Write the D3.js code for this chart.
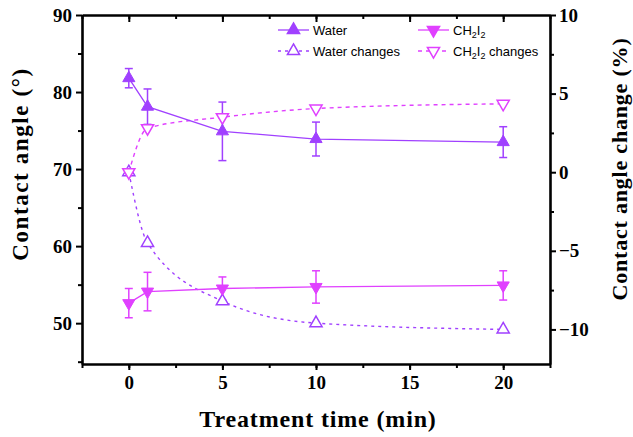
<!DOCTYPE html>
<html>
<head>
<meta charset="utf-8">
<script src="https://cdn.jsdelivr.net/npm/d3@7"></script>
<style>
  body { margin: 0; background: #fff; }
  .tick text { font-family: "Liberation Serif", "Times New Roman", serif; font-weight: bold; font-size: 19px; fill: #000; }
  .axis path, .axis line { stroke: #000; }
  .title { font-family: "Liberation Serif", "Times New Roman", serif; font-weight: bold; fill: #000; }
  .legend text { font-family: "Liberation Sans", Arial, sans-serif; font-size: 13px; fill: #000; }
</style>
</head>
<body>
<svg id="chart" width="633" height="437"></svg>
<script>
const times = [0, 1, 5, 10, 20];
const water = [81.8, 78.1, 74.9, 73.9, 73.5];
const waterErr = [1.25, 2.3, 3.8, 2.2, 2.0];
const ch2i2 = [52.6, 54.1, 54.5, 54.7, 54.9];
const ch2i2Err = [1.9, 2.5, 1.5, 2.1, 1.9];
const waterChange = [0, -4.5, -8.2, -9.6, -10.0];
const ch2i2Change = [0, 2.8, 3.5, 4.05, 4.35];
const xTicks = [0, 5, 10, 15, 20];
const leftTicks = [50, 60, 70, 80, 90];
const rightTicks = [-10, -5, 0, 5, 10];

const colWater = "#a040ff";
const colCH = "#e040ff";

const svg = d3.select("#chart");
const plotLeft = 82, plotRight = 550, plotTop = 15, plotBottom = 364;

const x = d3.scaleLinear().domain([-2.5, 22.5]).range([plotLeft, plotRight]);
const yL = d3.scaleLinear().domain([44.7, 90]).range([plotBottom, plotTop]);
const yR = d3.scaleLinear().domain([-12.2, 10]).range([plotBottom, plotTop]);

// minor ticks
const minorX = d3.range(-2.5, 22.6, 2.5);
const minorL = [45, 55, 65, 75, 85];
const minorR = [-7.5, -2.5, 2.5, 7.5];

function styleAxis(g) {
  g.select(".domain").attr("stroke-width", 2.6);
  g.selectAll(".tick line").attr("stroke-width", 2);
}

// minor tick marks first
svg.append("g").attr("class", "axis").attr("transform", `translate(0,${plotBottom})`)
  .call(d3.axisBottom(x).tickValues(minorX).tickSize(4).tickFormat("").tickSizeOuter(0))
  .call(g => g.select(".domain").remove()).call(styleAxis);
svg.append("g").attr("class", "axis").attr("transform", `translate(0,${plotTop})`)
  .call(d3.axisBottom(x).tickValues(minorX).tickSize(4).tickFormat("").tickSizeOuter(0))
  .call(g => g.select(".domain").remove()).call(styleAxis);
svg.append("g").attr("class", "axis").attr("transform", `translate(${plotLeft},0)`)
  .call(d3.axisLeft(yL).tickValues(minorL).tickSize(4).tickFormat("").tickSizeOuter(0))
  .call(g => g.select(".domain").remove()).call(styleAxis);
svg.append("g").attr("class", "axis").attr("transform", `translate(${plotRight},0)`)
  .call(d3.axisRight(yR).tickValues(minorR).tickSize(4).tickFormat("").tickSizeOuter(0))
  .call(g => g.select(".domain").remove()).call(styleAxis);

// major axes
svg.append("g").attr("class", "axis").attr("transform", `translate(0,${plotBottom})`)
  .call(d3.axisBottom(x).tickValues(xTicks).tickSize(6).tickPadding(6).tickSizeOuter(0))
  .call(styleAxis);
svg.append("g").attr("class", "axis").attr("transform", `translate(0,${plotTop})`)
  .call(d3.axisBottom(x).tickValues(xTicks).tickSize(7).tickFormat("").tickSizeOuter(0))
  .call(styleAxis);
svg.append("g").attr("class", "axis").attr("transform", `translate(${plotLeft},0)`)
  .call(d3.axisLeft(yL).tickValues(leftTicks).tickSize(6).tickPadding(4).tickSizeOuter(0))
  .call(styleAxis);
svg.append("g").attr("class", "axis").attr("transform", `translate(${plotRight},0)`)
  .call(d3.axisRight(yR).tickValues(rightTicks).tickSize(6).tickPadding(3).tickSizeOuter(0))
  .call(styleAxis);

// axis titles
svg.append("text").attr("class", "title")
  .attr("x", (plotLeft + plotRight) / 2 + 2).attr("y", 427)
  .attr("text-anchor", "middle").style("font-size", "24px").style("letter-spacing", "0.85px")
  .text("Treatment time (min)");
svg.append("text").attr("class", "title")
  .attr("transform", "translate(28,164) rotate(-90)")
  .attr("text-anchor", "middle").style("font-size", "23px").style("letter-spacing", "1.6px")
  .text("Contact angle (°)");
svg.append("text").attr("class", "title")
  .attr("transform", "translate(627,169) rotate(-90)")
  .attr("text-anchor", "middle").style("font-size", "22px").style("letter-spacing", "0.8px")
  .text("Contact angle change (%)");

const rows = times.map((t, i) => ({
  t, w: water[i], we: waterErr[i], c: ch2i2[i], ce: ch2i2Err[i],
  wc: waterChange[i], cc: ch2i2Change[i]
}));

const up = d3.symbol(d3.symbolTriangle, 64);
const plot = svg.append("g");

// change lines (dotted, smooth)
plot.append("path").datum(rows)
  .attr("fill", "none").attr("stroke", colWater).attr("stroke-width", 1.4)
  .attr("stroke-dasharray", "3,4")
  .attr("d", d3.line().x(d => x(d.t)).y(d => yR(d.wc)).curve(d3.curveMonotoneX));
plot.append("path").datum(rows)
  .attr("fill", "none").attr("stroke", colCH).attr("stroke-width", 1.4)
  .attr("stroke-dasharray", "4,4")
  .attr("d", d3.line().x(d => x(d.t)).y(d => yR(d.cc)).curve(d3.curveMonotoneX));

// contact angle lines
plot.append("path").datum(rows)
  .attr("fill", "none").attr("stroke", colWater).attr("stroke-width", 1.3)
  .attr("d", d3.line().x(d => x(d.t)).y(d => yL(d.w)));
plot.append("path").datum(rows)
  .attr("fill", "none").attr("stroke", colCH).attr("stroke-width", 1.3)
  .attr("d", d3.line().x(d => x(d.t)).y(d => yL(d.c)));

// error bars
function errorBars(key, errKey, color) {
  const g = plot.append("g").attr("stroke", color).attr("stroke-width", 1.5);
  rows.forEach(d => {
    const cx = x(d.t), y1 = yL(d[key] + d[errKey]), y2 = yL(d[key] - d[errKey]);
    g.append("line").attr("x1", cx).attr("x2", cx).attr("y1", y1).attr("y2", y2);
    g.append("line").attr("x1", cx - 4).attr("x2", cx + 4).attr("y1", y1).attr("y2", y1);
    g.append("line").attr("x1", cx - 4).attr("x2", cx + 4).attr("y1", y2).attr("y2", y2);
  });
}
errorBars("w", "we", colWater);
errorBars("c", "ce", colCH);

// markers
plot.selectAll(".mwc").data(rows).join("path")
  .attr("transform", d => `translate(${x(d.t)},${yR(d.wc)})`)
  .attr("d", up()).attr("fill", "#fff").attr("stroke", colWater).attr("stroke-width", 1.5);
plot.selectAll(".mcc").data(rows).join("path")
  .attr("transform", d => `translate(${x(d.t)},${yR(d.cc)}) rotate(180)`)
  .attr("d", up()).attr("fill", "#fff").attr("stroke", colCH).attr("stroke-width", 1.5);
plot.selectAll(".mw").data(rows).join("path")
  .attr("transform", d => `translate(${x(d.t)},${yL(d.w)})`)
  .attr("d", up()).attr("fill", colWater).attr("stroke", colWater);
plot.selectAll(".mc").data(rows).join("path")
  .attr("transform", d => `translate(${x(d.t)},${yL(d.c)}) rotate(180)`)
  .attr("d", up()).attr("fill", colCH).attr("stroke", colCH);

// legend
const legendItems = [
  { label: "Water", color: colWater, filled: true, down: false, dash: null, lx: 278, ly: 30 },
  { label: "Water changes", color: colWater, filled: false, down: false, dash: "3,4", lx: 278, ly: 51 },
  { label: "CH2I2", color: colCH, filled: true, down: true, dash: null, lx: 418, ly: 30 },
  { label: "CH2I2 changes", color: colCH, filled: false, down: true, dash: "4,4", lx: 418, ly: 51 }
];
const lg = svg.append("g").attr("class", "legend");
legendItems.forEach(it => {
  const g = lg.append("g").attr("transform", `translate(${it.lx},${it.ly})`);
  g.append("line").attr("x1", 0).attr("x2", 31).attr("y1", 0).attr("y2", 0)
    .attr("stroke", it.color).attr("stroke-width", 1.3)
    .attr("stroke-dasharray", it.dash);
  g.append("path").attr("transform", `translate(15.5,0)${it.down ? " rotate(180)" : ""}`)
    .attr("d", up()).attr("fill", it.filled ? it.color : "#fff")
    .attr("stroke", it.color).attr("stroke-width", 1.5);
  const t = g.append("text").attr("x", 35).attr("y", 5);
  if (it.label.startsWith("CH2I2")) {
    t.append("tspan").text("CH");
    t.append("tspan").attr("dy", 3).style("font-size", "9px").text("2");
    t.append("tspan").attr("dy", -3).text("I");
    t.append("tspan").attr("dy", 3).style("font-size", "9px").text("2");
    t.append("tspan").attr("dy", -3).text(it.label.slice(5));
  } else {
    t.text(it.label);
  }
});
</script>
</body>
</html>
